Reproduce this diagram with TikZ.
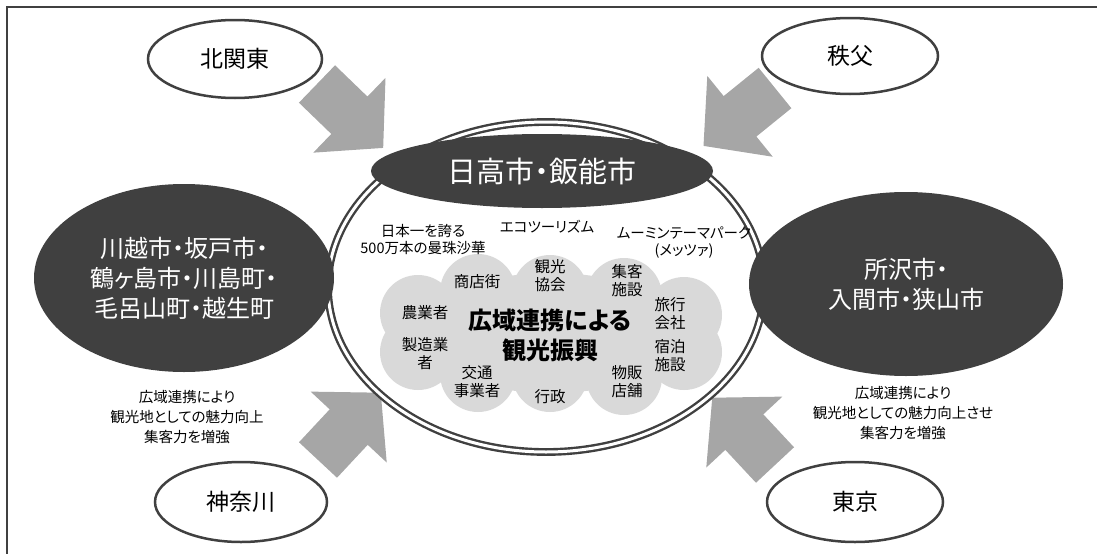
\documentclass[tikz,border=0pt]{standalone}
\usepackage{fontspec}
\setmainfont{Noto Sans CJK JP}[RawFeature=+palt]
\usetikzlibrary{shapes.geometric}
\definecolor{dk}{HTML}{404040}
\definecolor{arrowgray}{HTML}{A6A6A6}
\definecolor{cloudgray}{HTML}{D9D9D9}
\newcommand{\fsz}[2]{\fontsize{#1}{#2}\selectfont}
\tikzset{
  areawhite/.style={ellipse, draw=dk, line width=2.5pt, fill=white, inner sep=0pt,
    minimum width=#1, font=\fsz{23}{28}},
  areadark/.style={ellipse, fill=dk, inner sep=0pt, text=white, align=center},
  ringnode/.style={ellipse, draw=dk, line width=2.4pt, double=white, double distance=3pt,
    inner sep=0pt},
  puff/.style={align=center, font=\fsz{15.5}{18}, inner sep=0pt},
  note/.style={align=center, font=\fsz{14.5}{17}, inner sep=0pt},
  fatarrow/.pic={\fill[arrowgray] (0,-26) -- (45,-26) -- (45,-52) -- (92,0) -- (45,52) -- (45,26) -- (0,26) -- cycle;}
}
\begin{document}
\begin{tikzpicture}[x=1pt,y=-1pt]
\useasboundingbox (0,0) rectangle (1097,554);
% frame
\draw[dk, line width=1.5pt] (1097,7) -- (7,7) -- (7,554);
% block arrows
\pic[rotate=-44] at (317,84) {fatarrow};
\pic[rotate=-141] at (775,88) {fatarrow};
\pic[rotate=47] at (318,460) {fatarrow};
\pic[rotate=133] at (775,465) {fatarrow};
% outer regions
\node[areawhite=174, minimum height=78] (kitakanto) at (235,59) {北関東};
\node[areawhite=176, minimum height=76] (chichibu) at (850,56) {秩父};
\node[areawhite=172, minimum height=80] (kanagawa) at (241,502) {神奈川};
\node[areawhite=176, minimum height=80] (tokyo) at (855,502) {東京};
% ring
\node[ringnode, minimum width=436, minimum height=330] (ring) at (546,287) {};
% cloud
\fill[cloudgray] (551,333) ellipse [x radius=135, y radius=60];
\foreach \cx/\cy in {418/313, 418/352, 478/292, 550/293, 624/296, 684/315, 684/352, 624/377, 550/374, 478/374}
  \fill[cloudgray] (\cx,\cy) circle [radius=38];
% dark regions
\node[areadark, minimum width=342, minimum height=74, font=\fsz{29}{34}] (hidaka) at (542,171) {日高市・飯能市};
\node[areadark, minimum width=300, minimum height=188, font=\fsz{24}{30}] (kawagoe) at (184,278)
  {川越市・坂戸市・\\鶴ヶ島市・川島町・\\毛呂山町・越生町};
\node[areadark, minimum width=314, minimum height=184, font=\fsz{24}{30}] (tokorozawa) at (906,284)
  {所沢市・\\入間市・狭山市};
% notes inside ring
\node[note] (manju) at (423,240) {日本一を誇る\\500万本の曼珠沙華};
\node[note] (eco) at (547,227) {エコツーリズム};
\node[note] (moomin) at (684,243) {ムーミンテーマパーク\\(メッツァ)};
% cloud labels
\node[puff] (shoten) at (477,282) {商店街};
\node[puff] (kanko) at (550,276) {観光\\協会};
\node[puff] (shukyaku) at (627,281) {集客\\施設};
\node[puff] (ryoko) at (670,314) {旅行\\会社};
\node[puff] (shukuhaku) at (670,356) {宿泊\\施設};
\node[puff] (buppan) at (627,382) {物販\\店舗};
\node[puff] (gyosei) at (550,397) {行政};
\node[puff] (kotsu) at (477,382) {交通\\事業者};
\node[puff] (seizo) at (425,354) {製造業\\者};
\node[puff] (nogyo) at (425,313) {農業者};
\node[align=center, inner sep=0pt, font=\fsz{24}{30}\bfseries] (core) at (550,335) {広域連携による\\観光振興};
% side notes
\node[align=center, inner sep=0pt, font=\fsz{14.5}{20}] (leftnote) at (187,417) {広域連携により\\観光地としての魅力向上\\集客力を増強};
\node[align=center, inner sep=0pt, font=\fsz{14.5}{20}] (rightnote) at (903,413) {広域連携により\\観光地としての魅力向上させ\\集客力を増強};
\end{tikzpicture}
\end{document}
